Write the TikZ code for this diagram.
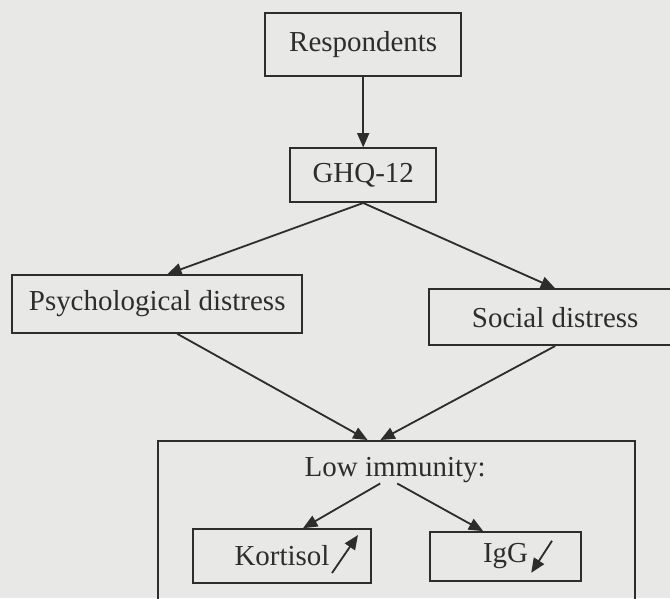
\documentclass[tikz,border=0pt]{standalone}
\usepackage{fontspec}
\setmainfont{Liberation Serif}
\usepackage{tikz}
\usetikzlibrary{arrows.meta}

\definecolor{paper}{RGB}{232,232,230}
\definecolor{ink}{RGB}{45,45,45}

\begin{document}
\begin{tikzpicture}[
    box/.style={draw=ink, line width=1.1pt, text=ink, inner sep=0pt,
                font=\fontsize{20.6}{24}\selectfont},
    link/.style={draw=ink, line width=1.3pt,
                 arrows={-Triangle[length=0.36cm,width=0.3cm]}}
  ]
        \clip (0,0) rectangle (16.75,-14.95);
        \fill[paper] (0,0) rectangle (16.75,-14.95);

        \node[box, minimum width=4.9cm, minimum height=1.575cm] (resp) at (9.08,-1.11) {Respondents};
        \node[box, minimum width=3.65cm, minimum height=1.35cm] (ghq) at (9.08,-4.38) {GHQ-12};
        \node[box, minimum width=7.25cm, minimum height=1.45cm] (psy) at (3.93,-7.6) {Psychological distress};
        \node[box, minimum width=6.3cm, minimum height=1.4cm] (soc) at (13.88,-7.93) {Social distress};

        \node[box, anchor=north, minimum width=11.925cm, minimum height=5cm] (low) at (9.91,-11) {};
        \node[box, draw=none] (lowtxt) at (9.88,-11.75) {Low immunity:};
        \node[box, minimum width=4.45cm, minimum height=1.35cm] (kort) at (7.05,-13.9) {Kortisol};
        \node[box, minimum width=3.775cm, minimum height=1.225cm] (igg) at (12.64,-13.91) {IgG};

        \draw[link] (resp.south) -- (ghq.north);
        \draw[link] (ghq.south) -- ([xshift=0.25cm]psy.north);
        \draw[link] (ghq.south) -- (soc.north);

        \draw[link] ([xshift=0.5cm]psy.south) -- ([xshift=-0.72cm]low.north);
        \draw[link] (soc.south) -- ([xshift=-0.4cm]low.north);

        \draw[link] ([xshift=-0.375cm]lowtxt.south) -- ([xshift=0.525cm]kort.north);
        \draw[link] ([xshift=0.05cm]lowtxt.south) -- ([xshift=-0.56cm]igg.north);

        \coordinate (kup1) at ([shift={(1.25,-0.425)}]kort.center);
        \coordinate (kup2) at ([shift={(1.9,0.525)}]kort.center);
        \draw[link] (kup1) -- (kup2);

        \coordinate (gdn1) at ([shift={(1.16,0.39)}]igg.center);
        \coordinate (gdn2) at ([shift={(0.64,-0.41)}]igg.center);
        \draw[link] (gdn1) -- (gdn2);
\end{tikzpicture}
\end{document}
